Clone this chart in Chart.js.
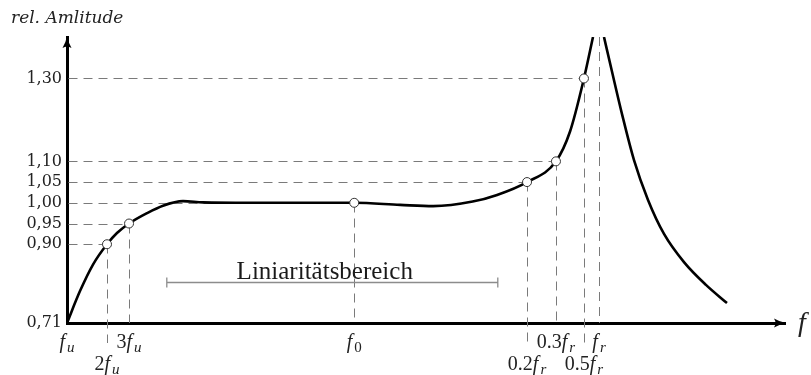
<!DOCTYPE html>
<html lang="de">
<head>
<meta charset="utf-8">
<title>Amplitudengang</title>
<script src="https://cdn.jsdelivr.net/npm/chart.js@4.4.1/dist/chart.umd.min.js"></script>
<style>
  html, body { margin: 0; padding: 0; background: #fff; }
  #wrap { position: relative; width: 811px; height: 375px; }
</style>
</head>
<body>
<div id="wrap"><canvas id="ampChart"></canvas></div>
<script>
// Relativer Amplitudengang: Anstieg ab fu, Plateau um f0, Resonanzüberhöhung bei fr
// x-Achse ist schematisch (0..100), y-Achse relative Amplitude

// Kurve bis zur Resonanz
const riseX = [0, 1.81, 3.62, 5.57, 6.96, 8.64, 11.14, 13.37, 16.16, 18.94, 25.5, 32.4, 40.0, 46.4, 51.0, 56.5, 59.9, 64.07, 68.1, 70.06, 72.0, 73.26];
const riseY = [0.71, 0.787, 0.851, 0.90, 0.927, 0.95, 0.975, 0.993, 1.004, 1.001, 1.0, 1.0, 1.00, 0.995, 0.992, 1.003, 1.019, 1.05, 1.10, 1.172, 1.30, 1.40];

// Abfall oberhalb der Resonanz
const fallX = [74.79, 75.91, 77.30, 78.97, 80.92, 83.15, 85.93, 88.99, 91.92];
const fallY = [1.40, 1.316, 1.214, 1.103, 1.007, 0.925, 0.857, 0.802, 0.758];

// markante Frequenzen (Zeile 1 = untere Beschriftungszeile)
const freqLabels = ['f_u', '2f_u', '3f_u', 'f_0', '0.2f_r', '0.3f_r', '0.5f_r', 'f_r'];
const freqPos = [0, 5.57, 8.64, 40.0, 64.07, 68.1, 72.0, 74.1];
const freqRow = [0, 1, 0, 0, 1, 0, 1, 0];
const freqAmp = [null, 0.90, 0.95, 1.00, 1.05, 1.10, 1.30, null];

const ampTicks = [0.71, 0.90, 0.95, 1.00, 1.05, 1.10, 1.30];
const ampTickLabels = ['0,71', '0,90', '0,95', '1,00', '1,05', '1,10', '1,30'];

// Linearitätsbereich
const rangeFrom = 13.9;
const rangeTo = 60.0;
const rangeLevel = 0.809;
const rangeTextAt = 35.9;

const toPoints = (xs, ys) => xs.map((v, i) => ({ x: v, y: ys[i] }));
const marks = [];
freqPos.forEach((f, i) => { if (freqAmp[i] !== null) marks.push({ x: f, y: freqAmp[i] }); });

function arrowHead(ctx, tx, ty, rot) {
  ctx.save();
  ctx.translate(tx, ty);
  ctx.rotate(rot);
  ctx.fillStyle = '#000';
  ctx.beginPath();
  ctx.moveTo(0, 0);
  ctx.quadraticCurveTo(-1, 6, -4.5, 12);
  ctx.quadraticCurveTo(0, 9, 4.5, 12);
  ctx.quadraticCurveTo(1, 6, 0, 0);
  ctx.closePath();
  ctx.fill();
  ctx.restore();
}

// Beschriftung wie "0.2f_r": Vorfaktor aufrecht, f kursiv, Index tiefgestellt
function freqLabel(ctx, text, cx, base) {
  const m = text.match(/^([0-9.]*)f_(\w)$/);
  const pre = m[1], sub = m[2];
  const roman = '20px "Liberation Serif"';
  const ital = 'italic 20px "Liberation Serif"';
  const subFont = (/\d/.test(sub) ? '' : 'italic ') + '15px "Liberation Serif"';
  ctx.font = roman; const wPre = ctx.measureText(pre).width;
  ctx.font = ital; const wF = ctx.measureText('f').width + 2;
  ctx.font = subFont; const wSub = ctx.measureText(sub).width;
  let xx = cx - (wPre + wF + wSub) / 2;
  ctx.textAlign = 'left';
  ctx.textBaseline = 'alphabetic';
  ctx.fillStyle = '#222';
  ctx.font = roman; ctx.fillText(pre, xx, base); xx += wPre;
  ctx.font = ital; ctx.fillText('f', xx, base); xx += wF;
  ctx.font = subFont; ctx.fillText(sub, xx, base + 3.5);
}

const sketch = {
  id: 'sketch',
  beforeDatasetsDraw(chart) {
    const { ctx, chartArea: a, scales: { x, y } } = chart;
    ctx.save();
    // Hilfslinien
    ctx.strokeStyle = '#7a7a7a';
    ctx.lineWidth = 1;
    ctx.setLineDash([9, 6]);
    freqPos.forEach((f, i) => {
      const px = Math.round(x.getPixelForValue(f)) + 0.5;
      const below = freqRow[i] ? 20 : 0;
      if (freqAmp[i] !== null) {
        const py = Math.round(y.getPixelForValue(freqAmp[i])) + 0.5;
        ctx.beginPath(); ctx.moveTo(a.left + 1.5, py); ctx.lineTo(px, py); ctx.stroke();
        ctx.beginPath(); ctx.moveTo(px, py); ctx.lineTo(px, a.bottom + below); ctx.stroke();
      } else if (i > 0) {
        ctx.beginPath(); ctx.moveTo(px, a.top); ctx.lineTo(px, a.bottom + below); ctx.stroke();
      }
    });
    // Linearitätsbereich
    ctx.setLineDash([]);
    ctx.strokeStyle = '#8c8c8c';
    ctx.lineWidth = 1.3;
    const bx0 = x.getPixelForValue(rangeFrom);
    const bx1 = x.getPixelForValue(rangeTo);
    const by = Math.round(y.getPixelForValue(rangeLevel)) + 0.5;
    ctx.beginPath();
    ctx.moveTo(bx0, by); ctx.lineTo(bx1, by);
    ctx.moveTo(bx0, by - 5); ctx.lineTo(bx0, by + 5);
    ctx.moveTo(bx1, by - 5); ctx.lineTo(bx1, by + 5);
    ctx.stroke();
    ctx.fillStyle = '#1a1a1a';
    ctx.font = '25px "Liberation Serif"';
    ctx.textAlign = 'center';
    ctx.textBaseline = 'alphabetic';
    ctx.fillText('Liniaritätsbereich', x.getPixelForValue(rangeTextAt), by - 4);
    ctx.restore();
  },
  afterDraw(chart) {
    const { ctx, chartArea: a, scales: { x } } = chart;
    ctx.save();
    arrowHead(ctx, a.left, a.top - 1, 0);
    arrowHead(ctx, a.right + 1, a.bottom, Math.PI / 2);
    freqLabels.forEach((t, i) => {
      freqLabel(ctx, t, x.getPixelForValue(freqPos[i]), a.bottom + (freqRow[i] ? 47 : 25));
    });
    ctx.fillStyle = '#222';
    ctx.textAlign = 'left';
    ctx.textBaseline = 'alphabetic';
    ctx.font = 'italic 17px "DejaVu Serif"';
    ctx.fillText('rel. Amlitude', 11, 23);
    ctx.font = 'italic 28px "Liberation Serif"';
    ctx.fillText('f', 798, a.bottom + 8);
    ctx.restore();
  }
};

new Chart(document.getElementById('ampChart'), {
  type: 'line',
  data: {
    datasets: [
      {
        label: 'Messpunkte',
        data: marks,
        showLine: false,
        pointRadius: 4.5,
        pointBackgroundColor: '#fff',
        pointBorderColor: '#333',
        pointBorderWidth: 1
      },
      {
        label: 'unterhalb fr',
        data: toPoints(riseX, riseY),
        borderColor: '#000',
        borderWidth: 2.6,
        pointRadius: 0,
        cubicInterpolationMode: 'monotone',
        fill: false
      },
      {
        label: 'oberhalb fr',
        data: toPoints(fallX, fallY),
        borderColor: '#000',
        borderWidth: 2.6,
        pointRadius: 0,
        cubicInterpolationMode: 'monotone',
        fill: false
      }
    ]
  },
  options: {
    responsive: true,
    maintainAspectRatio: false,
    animation: false,
    events: [],
    layout: { padding: { top: 37, right: 26, bottom: 0, left: 0 } },
    plugins: { legend: { display: false }, tooltip: { enabled: false } },
    scales: {
      x: {
        type: 'linear',
        min: 0,
        max: 100,
        grid: { display: false, drawTicks: false },
        border: { color: '#000', width: 3 },
        ticks: { display: false },
        afterFit: s => { s.height = 52; }
      },
      y: {
        type: 'linear',
        min: 0.71,
        max: 1.40,
        grid: { display: false, drawTicks: false },
        border: { color: '#000', width: 3 },
        afterBuildTicks: s => { s.ticks = ampTicks.map(v => ({ value: v })); },
        afterFit: s => { s.width = 67; },
        ticks: {
          autoSkip: false,
          padding: 5,
          color: '#222',
          font: { family: 'DejaVu Serif', size: 16 },
          callback: (v, i) => ampTickLabels[i]
        }
      }
    }
  },
  plugins: [sketch]
});
</script>
</body>
</html>
